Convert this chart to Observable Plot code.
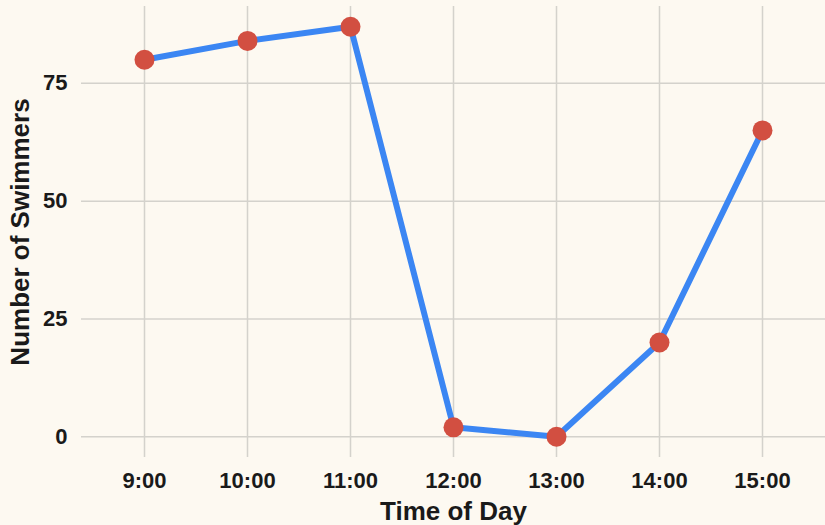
<!DOCTYPE html>
<html>
<head>
<meta charset="utf-8">
<script src="https://cdn.jsdelivr.net/npm/d3@7"></script>
<script src="https://cdn.jsdelivr.net/npm/@observablehq/plot@0.6"></script>
<style>
  html, body { margin: 0; padding: 0; background: #fdf9f1; }
</style>
</head>
<body>
<div id="chart"></div>
<script>
const times = ["9:00", "10:00", "11:00", "12:00", "13:00", "14:00", "15:00"];
const swimmers = [80, 84, 87, 2, 0, 20, 65];
const yTicks = [0, 25, 50, 75];
const xTitle = "Time of Day";
const yTitle = "Number of Swimmers";

const data = times.map((t, i) => ({ time: t, swimmers: swimmers[i] }));

const chart = Plot.plot({
  width: 825,
  height: 525,
  marginTop: 6,
  marginBottom: 68,
  marginLeft: 81,
  marginRight: 0,
  style: {
    background: "#fdf9f1",
    fontFamily: "'Liberation Sans', Arial, sans-serif",
    color: "#1a1a1a",
    overflow: "visible"
  },
  x: { type: "point", domain: times, padding: 0.6 },
  y: { domain: [-4.4, 91.3] },
  marks: [
    Plot.gridX(times, { stroke: "#d4d2cc", strokeOpacity: 1, strokeWidth: 1.5 }),
    Plot.gridY(yTicks, { stroke: "#d4d2cc", strokeOpacity: 1, strokeWidth: 1.5 }),
    Plot.axisX({ tickSize: 0, tickPadding: 15, fontSize: 22, fontWeight: "bold", label: null }),
    Plot.axisY(yTicks, { tickSize: 0, tickPadding: 14, fontSize: 22, fontWeight: "bold", label: null }),
    Plot.text([xTitle], { frameAnchor: "bottom", dy: 62, lineAnchor: "bottom", fontSize: 26, fontWeight: "bold", fill: "#1a1a1a" }),
    Plot.text([yTitle], { frameAnchor: "left", dx: -71, rotate: -90, textAnchor: "middle", lineAnchor: "top", fontSize: 26, fontWeight: "bold", fill: "#1a1a1a" }),
    Plot.line(data, { x: "time", y: "swimmers", stroke: "#3b86f3", strokeWidth: 6, strokeLinejoin: "round", strokeLinecap: "round" }),
    Plot.dot(data, { x: "time", y: "swimmers", r: 10, fill: "#d24f41", stroke: "none" })
  ]
});
document.getElementById("chart").appendChild(chart);
</script>
</body>
</html>
